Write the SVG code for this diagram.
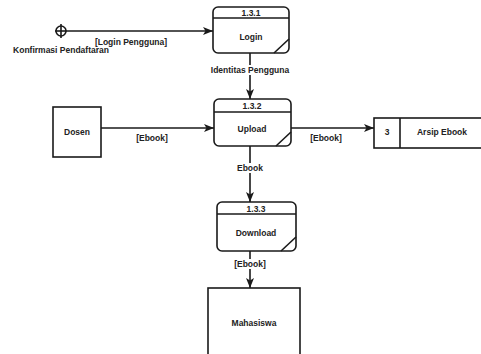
<svg xmlns="http://www.w3.org/2000/svg" width="481" height="354" viewBox="0 0 481 354">
<defs>
<style>
.b{fill:#fff;stroke:#1a1a1a;stroke-width:1.6}
.l{fill:none;stroke:#1a1a1a;stroke-width:1.6}
.bg{fill:#fff}
.t{font-family:"Liberation Sans",Arial,sans-serif;font-weight:bold;font-size:8.5px;fill:#222;text-anchor:middle}
</style>
<marker id="ar" viewBox="0 0 10 8" refX="10" refY="4" markerWidth="10" markerHeight="8" markerUnits="userSpaceOnUse" orient="auto">
<path d="M0,0 L10,4 L0,8 L2.5,4 Z" fill="#1a1a1a"/>
</marker>
</defs>
<rect width="481" height="354" fill="#fff"/>
<g id="connectors">
<line class="l" x1="67" y1="31" x2="213" y2="31" marker-end="url(#ar)"/>
<line class="l" x1="250" y1="53" x2="250" y2="99" marker-end="url(#ar)"/>
<line class="l" x1="101" y1="128" x2="214" y2="128" marker-end="url(#ar)"/>
<line class="l" x1="291" y1="128" x2="374" y2="128" marker-end="url(#ar)"/>
<line class="l" x1="250" y1="146" x2="250" y2="202" marker-end="url(#ar)"/>
<line class="l" x1="250" y1="251" x2="250" y2="288" marker-end="url(#ar)"/>
<rect class="bg" x="208" y="65" width="84" height="10"/>
<rect class="bg" x="236" y="163" width="28" height="10"/>
<rect class="bg" x="233" y="259" width="34" height="10"/>
<text class="t" x="131" y="45">[Login Pengguna]</text>
<text class="t" x="250" y="73">Identitas Pengguna</text>
<text class="t" x="152" y="141">[Ebook]</text>
<text class="t" x="326" y="141">[Ebook]</text>
<text class="t" x="250" y="171">Ebook</text>
<text class="t" x="250" y="267">[Ebook]</text>
</g>
<g id="junction">
<circle class="b" cx="61" cy="31" r="5"/>
<line class="l" x1="55" y1="31" x2="67" y2="31"/>
<line class="l" x1="61" y1="24" x2="61" y2="38"/>
<text class="t" x="61" y="53">Konfirmasi Pendaftaran</text>
</g>
<g id="login">
<rect class="b" x="213" y="7" width="76" height="46" rx="5"/>
<line class="l" x1="213" y1="18" x2="289" y2="18"/>
<path class="l" d="M274,53 L289,39"/>
<text class="t" x="251" y="15.5">1.3.1</text>
<text class="t" x="251" y="40">Login</text>
</g>
<g id="upload">
<rect class="b" x="214" y="99" width="77" height="47" rx="5"/>
<line class="l" x1="214" y1="112" x2="291" y2="112"/>
<path class="l" d="M276,146 L291,132"/>
<text class="t" x="252" y="109">1.3.2</text>
<text class="t" x="252" y="132">Upload</text>
</g>
<g id="download">
<rect class="b" x="217" y="202" width="79" height="49" rx="5"/>
<line class="l" x1="217" y1="214" x2="296" y2="214"/>
<path class="l" d="M281,251 L296,237"/>
<text class="t" x="256" y="211.5">1.3.3</text>
<text class="t" x="256" y="236">Download</text>
</g>
<g id="dosen">
<rect class="b" x="53" y="107" width="48" height="50"/>
<text class="t" x="77" y="135">Dosen</text>
</g>
<g id="arsip">
<rect class="b" x="374" y="118" width="115" height="30"/>
<line class="l" x1="400" y1="118" x2="400" y2="148"/>
<text class="t" x="387" y="135">3</text>
<text class="t" x="442" y="135">Arsip Ebook</text>
</g>
<g id="mahasiswa">
<rect class="b" x="208" y="288" width="92" height="75"/>
<text class="t" x="254" y="326">Mahasiswa</text>
</g>
</svg>
